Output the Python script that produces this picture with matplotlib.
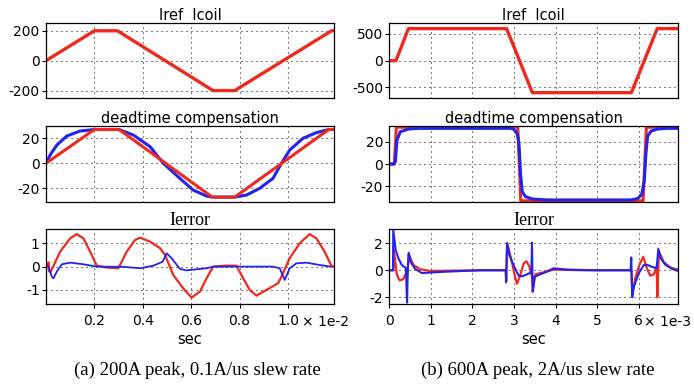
import numpy as np
import matplotlib
matplotlib.use("Agg")
from matplotlib import pyplot as plt

plt.rcParams['font.family'] = ['DejaVu Sans']
plt.rcParams['axes.unicode_minus'] = False

RED = '#ee2a1e'
BLUE = '#2323ee'

# ---- (a) 200A peak, 0.1A/us : time in units of 1e-2 s
iref_a_t = [0, 0.2, 0.295, 0.69, 0.78, 1.18, 1.19]
iref_a = [0, 200, 200, -200, -200, 200, 200]

dt_red_a_t = [0, 0.2, 0.302, 0.687, 0.780, 1.168, 1.19]
dt_red_a = [0, 27, 27, -27, -27, 27, 27]
dt_blue_a_t = [0, 0.017, 0.045, 0.086, 0.141, 0.2, 0.302, 0.361, 0.43, 0.4845,
               0.553, 0.608, 0.6635, 0.687, 0.780, 0.828, 0.883, 0.938, 0.973,
               1.007, 1.062, 1.117, 1.168, 1.19]
dt_blue_a = [0, 6.6, 14.6, 21.8, 25.8, 27, 27, 22.6, 13.3, 0,
             -12, -21.4, -26.2, -27, -27, -25.4, -20, -12, 0,
             10.6, 20, 24.5, 27, 27]

err_red_a_t = [0.0, 0.008, 0.0105, 0.012, 0.020, 0.0586, 0.0998, 0.1273, 0.1548,
               0.1823, 0.2098, 0.25, 0.299, 0.3335, 0.368, 0.3885, 0.4297, 0.471,
               0.4916, 0.526, 0.567, 0.6015, 0.636, 0.6634, 0.6909, 0.74, 0.787,
               0.8146, 0.842, 0.8696, 0.911, 0.959, 0.9727, 1.007, 1.0483, 1.0895,
               1.117, 1.1513, 1.1788, 1.19]
err_red_a = [0.0, 0.0, 0.18, -0.2, -0.21, 0.64, 1.21, 1.39, 1.21,
             0.64, 0.04, -0.04, -0.07, 0.64, 1.14, 1.24, 1.07, 0.79,
             0.5, -0.36, -0.93, -1.33, -1.07, -0.5, 0.0, 0.04, 0.04,
             -0.5, -1.0, -1.24, -1.0, -0.71, -0.43, 0.36, 1.0, 1.39,
             1.21, 0.64, 0.04, 0.0]
err_blue_a_t = [0.0105, 0.024, 0.031, 0.0448, 0.0655, 0.0998, 0.1548, 0.2098,
                0.3197, 0.3885, 0.4435, 0.482, 0.4985, 0.519, 0.5534, 0.581,
                0.6634, 0.691, 0.8008, 0.938, 0.9658, 0.9864, 1.007, 1.0345,
                1.0758, 1.1307, 1.175]
err_blue_a = [0.0, -0.43, -0.5, -0.21, 0.1, 0.17, 0.1, 0.0,
              -0.01, -0.07, 0.04, 0.21, 0.57, 0.36, -0.1, -0.16,
              -0.07, 0.0, 0.0, 0.0, -0.07, -0.57, -0.07, 0.14,
              0.17, 0.07, 0.0]

# ---- (b) 600A peak, 2A/us : time in units of 1e-3 s
iref_b_t = [0, 0.16, 0.46, 2.82, 3.44, 5.82, 6.44, 6.94]
iref_b = [0, 0, 600, 600, -600, -600, 600, 600]

dt_red_b_t = [0, 0.12, 0.17, 3.09, 3.16, 6.10, 6.18, 6.94]
dt_red_b = [0, 0, 33, 33, -33, -33, 33, 33]
dt_blue_b_t = [0, 0.105, 0.145, 0.185, 0.265, 0.466, 0.747, 2.916, 2.996, 3.077,
               3.117, 3.157, 3.197, 3.277, 3.438, 3.80, 5.81, 5.97, 6.07, 6.13,
               6.17, 6.21, 6.29, 6.45, 6.69, 6.94]
dt_blue_b = [0, 0, 2, 21.5, 29, 31.4, 32, 32, 31, 27,
             18, -10, -25, -29.3, -31.4, -32.2, -32.2, -31, -27, -15,
             10, 25, 29.5, 31.4, 32, 32]

err_red_b_t = [0, 0.10, 0.11, 0.178, 0.218, 0.258, 0.338, 0.40, 0.435, 0.467,
               0.579, 0.74, 0.98, 2.19, 2.80, 2.812, 2.836, 2.949, 3.03, 3.07,
               3.15, 3.23, 3.294, 3.366, 3.43, 3.455, 3.51, 3.71, 3.95, 4.6,
               5.82, 5.84, 5.92, 6.025, 6.105, 6.186, 6.27, 6.36, 6.427, 6.443,
               6.48, 6.60, 6.76, 6.94]
err_red_b = [0, 0, 1.5, -0.25, -0.6, -0.75, -0.65, -0.2, -0.3, 1.2,
             0.4, 0.08, -0.05, 0, 0, -0.8, 2.0, 0.6, -0.6, -1.0,
             -0.35, 0.5, 0.67, 0.3, -0.5, -1.5, -0.3, -0.15, 0.05, 0,
             0, -1.8, -0.5, 0.5, 1.0, 0.2, -0.4, -0.3, 0.3, -2.0,
             1.4, 0.6, 0.2, 0.05]
err_blue_b_t = [0, 0.09, 0.095, 0.153, 0.218, 0.298, 0.40, 0.427, 0.443, 0.467,
                0.515, 0.62, 0.78, 0.94, 1.38, 2.19, 2.80, 2.805, 2.83, 2.89,
                2.99, 3.11, 3.19, 3.31, 3.415, 3.43, 3.447, 3.487, 3.59, 3.79,
                3.95, 4.27, 5.0, 5.80, 5.816, 5.84, 5.88, 6.0, 6.12, 6.2,
                6.32, 6.427, 6.467, 6.52, 6.64, 6.8, 6.94]
err_blue_b = [0, 0, 3.0, 1.5, 0.9, 0.4, 0.15, -2.4, 0, 1.3,
              0.6, 0.1, -0.2, -0.18, -0.1, 0, 0, -0.9, 2.0, 1.1,
              0.35, -0.4, -0.45, -0.3, -0.15, 2.05, -1.6, -0.5, -0.35, -0.1,
              0.15, 0.05, 0, 0, 0.95, -2.0, -1.2, -0.2, 0.4, 0.4,
              0.25, 0.15, 1.6, 0.9, 0.4, 0.1, -0.05]

titles = ['Iref  Icoil', 'deadtime compensation', 'Ierror']
captions = ['(a) 200A peak, 0.1A/us slew rate', '(b) 600A peak, 2A/us slew rate']

fig = plt.figure(figsize=(6.94, 3.91), dpi=100)

W, H = 694.0, 391.0
cols = [(46, 334), (389.3, 678)]
rows = [(23, 98), (126, 201.6), (229, 304)]


def make_ax(c, r):
    x0, x1 = cols[c]
    y0, y1 = rows[r]
    return fig.add_axes([x0 / W, 1 - y1 / H, (x1 - x0) / W, (y1 - y0) / H])


def style(ax, title, xticks, xlabels, yticks, xlim, ylim, bottom):
    ax.set_xlim(*xlim)
    ax.set_ylim(*ylim)
    ax.set_xticks(xticks)
    ax.set_yticks(yticks)
    ax.set_yticklabels([str(v) for v in yticks])
    ax.grid(True, color='black', linestyle=(0, (1, 4)), linewidth=0.72)
    if bottom:
        # the Ierror title is set in a serif face in the original
        ax.set_title(title, fontsize=13, pad=1, family='Liberation Serif')
        ax.set_xticklabels(xlabels)
        ax.tick_params(axis='x', length=3, width=0.8, pad=4, labelsize=10)
    else:
        ax.set_title(title, fontsize=10.5, pad=2.5)
        ax.tick_params(axis='x', bottom=False, labelbottom=False)
    ax.tick_params(axis='y', length=3, width=0.8, pad=1.5, labelsize=10)
    for s in ax.spines.values():
        s.set_linewidth(0.9)


xt_a = [0.2e-2, 0.4e-2, 0.6e-2, 0.8e-2, 1.0e-2]
xl_a = ['0.2', '0.4', '0.6', '0.8', '1.0']
xlim_a = (0, 1.19e-2)
xt_b = [i * 1e-3 for i in range(7)]
xl_b = [str(i) for i in range(7)]
xlim_b = (0, 6.94e-3)

sa = 1e-2
sb = 1e-3

# left column
ax = make_ax(0, 0)
ax.plot(np.array(iref_a_t) * sa, iref_a, color=RED, lw=2.4)
style(ax, titles[0], xt_a, xl_a, [-200, 0, 200], xlim_a, (-250, 252), False)

ax = make_ax(0, 1)
ax.plot(np.array(dt_blue_a_t) * sa, dt_blue_a, color=BLUE, lw=2.2)
ax.plot(np.array(dt_red_a_t) * sa, dt_red_a, color=RED, lw=2.2)
style(ax, titles[1], xt_a, xl_a, [-20, 0, 20], xlim_a, (-30.6, 29.8), False)

ax = make_ax(0, 2)
ax.plot(np.array(err_red_a_t) * sa, err_red_a, color=RED, lw=1.6)
ax.plot(np.array(err_blue_a_t) * sa, err_blue_a, color=BLUE, lw=1.3)
style(ax, titles[2], xt_a, xl_a, [-1, 0, 1], xlim_a, (-1.6, 1.61), True)

# right column
ax = make_ax(1, 0)
ax.plot(np.array(iref_b_t) * sb, iref_b, color=RED, lw=2.4)
style(ax, titles[0], xt_b, xl_b, [-500, 0, 500], xlim_b, (-700, 705), False)

ax = make_ax(1, 1)
ax.plot(np.array(dt_red_b_t) * sb, dt_red_b, color=RED, lw=2.2)
ax.plot(np.array(dt_blue_b_t) * sb, dt_blue_b, color=BLUE, lw=2.2)
style(ax, titles[1], xt_b, xl_b, [-20, 0, 20], xlim_b, (-33.7, 34.1), False)

ax = make_ax(1, 2)
ax.plot(np.array(err_red_b_t) * sb, err_red_b, color=RED, lw=1.6)
ax.plot(np.array(err_blue_b_t) * sb, err_blue_b, color=BLUE, lw=1.5)
style(ax, titles[2], xt_b, xl_b, [-2, 0, 2], xlim_b, (-2.5, 3.06), True)

# offset texts, x labels, captions
fig.text(302 / W, 1 - 321.7 / H, '\u00d7 1e-2', fontsize=10, va='center', ha='left')
fig.text(644 / W, 1 - 321.7 / H, '\u00d7 1e-3', fontsize=10, va='center', ha='left')
fig.text(190 / W, 1 - 340 / H, 'sec', fontsize=10.5, va='center', ha='center')
fig.text(533.7 / W, 1 - 340 / H, 'sec', fontsize=10.5, va='center', ha='center')
fig.text(197 / W, 1 - 370 / H, captions[0], fontsize=13.5, va='center', ha='center',
         family='Liberation Serif')
fig.text(538 / W, 1 - 370 / H, captions[1], fontsize=13.5, va='center', ha='center',
         family='Liberation Serif')

fig.savefig('out.png', dpi=100)
